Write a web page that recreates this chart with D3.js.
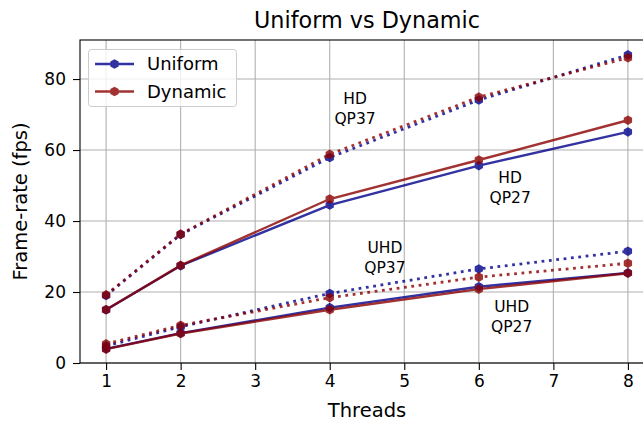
<!DOCTYPE html>
<html><head><meta charset="utf-8">
<script src="https://cdn.jsdelivr.net/npm/d3@7"></script>
<style>body{margin:0;background:#fff}svg{display:block;font-family:"DejaVu Sans",sans-serif}</style>
</head><body><svg id="c" width="643" height="421"></svg>
<script>
const threads = [1, 2, 4, 6, 8];
const xTicks = [1, 2, 3, 4, 5, 6, 7, 8];
const yTicks = [0, 20, 40, 60, 80];
const uniformHD37 = [19.0, 36.2, 57.9, 74.1, 86.8];
const dynamicHD37 = [19.2, 36.3, 58.8, 74.9, 86.0];
const uniformHD27 = [15.0, 27.4, 44.5, 55.6, 65.1];
const dynamicHD27 = [15.0, 27.5, 46.2, 57.2, 68.4];
const uniformUHD37 = [4.8, 10.2, 19.6, 26.5, 31.5];
const dynamicUHD37 = [5.4, 10.6, 18.4, 24.2, 28.1];
const uniformUHD27 = [4.0, 8.4, 15.6, 21.5, 25.4];
const dynamicUHD27 = [3.9, 8.3, 15.0, 20.8, 25.3];
const seriesNames = ["Uniform", "Dynamic"];
const labels = [
  {lines: ["HD", "QP37"], x: 4.34, y: 71.8},
  {lines: ["HD", "QP27"], x: 6.42, y: 49.6},
  {lines: ["UHD", "QP37"], x: 4.74, y: 29.9},
  {lines: ["UHD", "QP27"], x: 6.44, y: 13.2}
];

const svg = d3.select("#c");
const L = 80, R = 654, T = 40, B = 363;
const x = d3.scaleLinear().domain([0.65, 8.35]).range([L, R]);
const y = d3.scaleLinear().domain([0, 91]).range([B, T]);
const blue = "#00008b", red = "#8b0000";

// grid
const g = svg.append("g");
g.selectAll(".gx").data(xTicks).join("line")
  .attr("x1", d => x(d)).attr("x2", d => x(d)).attr("y1", T).attr("y2", B)
  .attr("stroke", "#b0b0b0").attr("stroke-width", 1.1);
g.selectAll(".gy").data(yTicks).join("line")
  .attr("x1", L).attr("x2", R).attr("y1", d => y(d)).attr("y2", d => y(d))
  .attr("stroke", "#b0b0b0").attr("stroke-width", 1.1);

function hex(cx, cy, r) {
  const pts = d3.range(6).map(i => {
    const a = -Math.PI / 2 + i * Math.PI / 3;
    return [cx + r * Math.cos(a), cy + r * Math.sin(a)];
  });
  return "M" + pts.map(p => p.join(",")).join("L") + "Z";
}

const line = d3.line().x((d, i) => x(threads[i])).y(d => y(d));
function drawSeries(vals, color, dotted) {
  const grp = svg.append("g").attr("opacity", 0.8);
  grp.append("path").attr("d", line(vals)).attr("fill", "none")
    .attr("stroke", color).attr("stroke-width", dotted ? 2.8 : 2.4)
    .attr("stroke-dasharray", dotted ? "2.8,4.6" : null);
  grp.selectAll("path.m").data(vals).join("path").attr("class", "m")
    .attr("d", (d, i) => hex(x(threads[i]), y(d), 4.8)).attr("fill", color);
}
drawSeries(uniformHD37, blue, true);
drawSeries(uniformHD27, blue, false);
drawSeries(uniformUHD37, blue, true);
drawSeries(uniformUHD27, blue, false);
drawSeries(dynamicHD37, red, true);
drawSeries(dynamicHD27, red, false);
drawSeries(dynamicUHD37, red, true);
drawSeries(dynamicUHD27, red, false);

// annotations
labels.forEach(lb => {
  const t = svg.append("text").attr("text-anchor", "middle").attr("font-size", 15.5).attr("fill", "#000");
  lb.lines.forEach((s, i) => {
    t.append("tspan").attr("x", x(lb.x)).attr("y", y(lb.y) + (i === 0 ? -4 : 16)).text(s);
  });
});

// axes
const xa = svg.append("g").attr("transform", `translate(0,${B})`)
  .call(d3.axisBottom(x).tickValues(xTicks).tickSize(7).tickPadding(5).tickFormat(d3.format("d")));
const ya = svg.append("g").attr("transform", `translate(${L},0)`)
  .call(d3.axisLeft(y).tickValues(yTicks).tickSize(7).tickPadding(7).tickFormat(d3.format("d")));
[xa, ya].forEach(a => {
  a.select(".domain").remove();
  a.selectAll("text").attr("font-size", 17).attr("font-family", "DejaVu Sans").attr("fill", "#000");
  a.selectAll("line").attr("stroke", "#000").attr("stroke-width", 1.1);
});
// spines
svg.append("rect").attr("x", L).attr("y", T).attr("width", R - L).attr("height", B - T)
  .attr("fill", "none").attr("stroke", "#000").attr("stroke-width", 1.1);

// titles
svg.append("text").attr("x", (L + R) / 2).attr("y", 28).attr("text-anchor", "middle")
  .attr("font-size", 22.3).text("Uniform vs Dynamic");
svg.append("text").attr("x", (L + R) / 2).attr("y", 417).attr("text-anchor", "middle")
  .attr("font-size", 19.5).text("Threads");
svg.append("text").attr("transform", `translate(27,${(T + B) / 2}) rotate(-90)`).attr("text-anchor", "middle")
  .attr("font-size", 19.5).text("Frame-rate (fps)");

// legend
const lg = svg.append("g");
lg.append("rect").attr("x", 88.5).attr("y", 49.5).attr("width", 148).attr("height", 57).attr("rx", 3)
  .attr("fill", "#fff").attr("fill-opacity", 0.8).attr("stroke", "#ccc").attr("stroke-width", 1);
[blue, red].forEach((c, i) => {
  const yy = 64 + i * 27.5;
  const gg = lg.append("g").attr("opacity", 0.8);
  gg.append("line").attr("x1", 95).attr("x2", 134).attr("y1", yy).attr("y2", yy).attr("stroke", c).attr("stroke-width", 2.4);
  gg.append("path").attr("d", hex(114.5, yy, 4.8)).attr("fill", c);
  lg.append("text").attr("x", 147).attr("y", yy + 6).attr("font-size", 18).text(seriesNames[i]);
});
</script></body></html>
